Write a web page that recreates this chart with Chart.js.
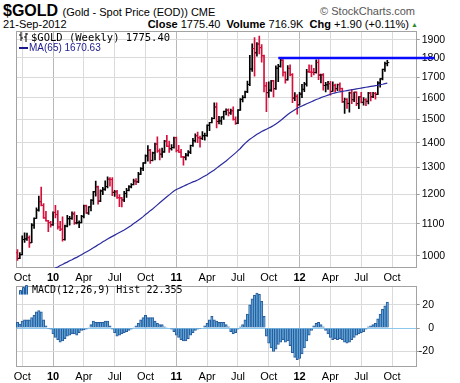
<!DOCTYPE html>
<html><head><meta charset="utf-8">
<script src="https://cdn.jsdelivr.net/npm/chart.js@4"></script>
<style>
body{margin:0;width:460px;height:383px;background:#fff;position:relative;overflow:hidden;font-family:"Liberation Sans",Arial,sans-serif;color:#000}
.t{position:absolute;white-space:nowrap;line-height:1}
canvas{position:absolute;left:0}
</style></head><body>
<div class="t" style="left:3px;top:3px;font-size:16px;font-weight:bold">$GOLD <span style="font-weight:normal;font-size:11px">(Gold - Spot Price (EOD)) CME</span></div>
<div class="t" style="right:45px;top:6px;font-size:11px;color:#555">© StockCharts.com</div>
<div class="t" style="left:3px;top:19px;font-size:11px">21-Sep-2012</div>
<div class="t" style="right:51px;top:19px;font-size:11px"><b>Close</b> 1775.40 &nbsp;<b>Volume</b> 716.9K &nbsp;<b>Chg</b> +1.90 (+0.11%)</div>
<div class="t" style="left:411px;top:21px;font-size:7px;color:#2f8a2f">▲</div>
<canvas id="c1" width="460" height="283" style="top:0"></canvas>
<canvas id="c2" width="460" height="103" style="top:280px"></canvas>
<svg style="position:absolute;left:19px;top:32px" width="11" height="10"><path d="M2 0V9M0 3H2M2 6H4M7 1V10M5 5H7M7 2H9" stroke="#000" fill="none"/></svg>
<div class="t" style="left:31px;top:32px;font-size:10.5px;font-family:'DejaVu Sans Mono',monospace">$GOLD (Weekly) 1775.40</div>
<div style="position:absolute;left:19px;top:47px;width:9px;height:2px;background:#1a1a8c"></div>
<div class="t" style="left:29px;top:43px;font-size:10px;color:#1a1a8c">MA(65) 1670.63</div>
<svg style="position:absolute;left:19px;top:285px" width="12" height="10"><path d="M0.5 9.5V5.5H2.5V9.5M3.5 9.5V2.5H5.5V9.5M6.5 9.5V0.5H8.5V9.5" stroke="#2a5c9c" fill="#5aa8dc"/></svg>
<div class="t" style="left:32px;top:285px;font-size:10px;font-family:'DejaVu Sans Mono',monospace">MACD(12,26,9) Hist 22.355</div>
<script>
// ---- data (weekly, index 0 = 25-Sep-2009 ... 156 = 21-Sep-2012) ----
const opens=[1010,993,1004,1050,1052,1056,1040,1096,1118,1146,
1175,1162,1120,1110,1104,1097,1138,1131,1090,1083,
1050,1093,1117,1118,1133,1103,1104,1104,1125,1161,
1136,1157,1180,1210,1228,1177,1213,1219,1229,1256,
1255,1208,1210,1189,1188,1181,1204,1215,1228,1236,
1249,1246,1275,1296,1318,1346,1369,1328,1358,1394,
1366,1353,1362,1406,1385,1375,1380,1421,1368,1361,
1342,1341,1349,1361,1388,1408,1429,1420,1418,1429,
1430,1474,1486,1504,1556,1491,1493,1511,1536,1542,
1529,1539,1500,1483,1542,1592,1601,1628,1664,1742,
1851,1828,1876,1856,1812,1657,1624,1636,1682,1643,
1746,1756,1788,1725,1687,1745,1713,1598,1606,1566,
1617,1640,1666,1728,1726,1725,1724,1776,1711,1712,
1659,1662,1668,1630,1659,1643,1663,1644,1580,1592,
1573,1623,1590,1626,1572,1604,1578,1591,1583,1622,
1604,1620,1616,1671,1692,1740,1770];
const highs=[1019,1010,1062,1071,1070,1062,1101,1120,1154,1195,
1227,1168,1142,1112,1108,1140,1162,1144,1108,1123,
1096,1128,1125,1140,1140,1128,1110,1128,1163,1163,
1158,1182,1212,1249,1231,1217,1226,1250,1265,1262,
1262,1215,1215,1200,1190,1212,1222,1232,1240,1256,
1258,1282,1300,1320,1350,1388,1372,1361,1398,1424,
1375,1378,1410,1431,1406,1392,1423,1423,1389,1372,
1344,1356,1367,1390,1418,1437,1445,1427,1447,1440,
1476,1487,1508,1576,1575,1514,1512,1537,1548,1548,
1547,1557,1512,1544,1595,1610,1632,1681,1814,1877,
1912,1884,1921,1873,1815,1675,1677,1685,1684,1759,
1766,1803,1792,1727,1760,1764,1718,1624,1615,1625,
1665,1675,1740,1764,1763,1745,1790,1792,1716,1718,
1675,1680,1680,1677,1666,1666,1672,1646,1598,1596,
1627,1640,1627,1628,1605,1625,1600,1596,1626,1625,
1626,1626,1678,1693,1742,1778,1788];
const lows=[987,992,1003,1041,1047,1026,1040,1085,1118,1142,
1160,1118,1109,1075,1089,1095,1120,1083,1078,1045,
1048,1090,1096,1115,1098,1100,1088,1103,1120,1135,
1131,1143,1165,1194,1166,1175,1200,1215,1224,1230,
1196,1193,1186,1158,1157,1175,1190,1213,1224,1235,
1236,1243,1273,1288,1316,1325,1316,1326,1330,1360,
1330,1340,1360,1383,1360,1369,1377,1362,1360,1340,
1309,1330,1345,1355,1384,1402,1400,1381,1412,1410,
1426,1451,1484,1503,1462,1480,1478,1500,1520,1515,
1522,1496,1478,1481,1540,1580,1599,1624,1658,1730,
1705,1809,1822,1778,1627,1535,1601,1630,1604,1640,
1678,1752,1705,1670,1685,1707,1576,1586,1523,1565,
1600,1629,1656,1725,1703,1712,1720,1688,1672,1636,
1627,1640,1612,1630,1627,1633,1633,1577,1527,1550,
1533,1572,1581,1562,1548,1575,1565,1562,1570,1585,
1600,1593,1614,1650,1687,1730,1758];
const closes=[993,1004,1050,1052,1056,1040,1096,1118,1146,1175,
1162,1120,1110,1104,1097,1138,1131,1090,1083,1050,
1093,1117,1118,1133,1103,1104,1104,1125,1161,1136,
1157,1180,1210,1228,1177,1213,1219,1229,1256,1255,
1208,1210,1189,1188,1181,1204,1215,1228,1236,1249,
1246,1275,1296,1318,1346,1369,1328,1358,1394,1366,
1353,1362,1406,1385,1375,1380,1421,1368,1361,1342,
1341,1349,1361,1388,1408,1429,1420,1418,1429,1430,
1474,1486,1504,1556,1491,1493,1511,1536,1542,1529,
1539,1500,1483,1542,1592,1601,1628,1664,1742,1851,
1828,1876,1856,1812,1657,1624,1636,1682,1643,1746,
1756,1788,1725,1687,1745,1713,1598,1606,1566,1617,
1640,1666,1728,1726,1725,1724,1776,1711,1712,1659,
1662,1668,1630,1659,1643,1663,1644,1580,1592,1573,
1623,1590,1626,1572,1604,1578,1591,1583,1622,1604,
1620,1616,1671,1692,1740,1770,1775.4];
const ma65=[909,913,916,920,923,927,930,934,937,941,
944,948,951,955,958,961,965,968,972,975,
979,982,986,989,993,996,1000,1004,1008,1012,
1016,1020,1025,1029,1034,1038,1043,1047,1052,1056,
1060,1064,1068,1072,1076,1080,1085,1090,1095,1101,
1106,1112,1118,1124,1131,1137,1144,1150,1157,1164,
1171,1178,1185,1192,1199,1206,1213,1218,1222,1226,
1230,1234,1238,1242,1246,1249,1253,1258,1263,1268,
1273,1279,1285,1291,1298,1305,1312,1319,1326,1334,
1342,1350,1358,1367,1376,1387,1397,1406,1414,1421,
1428,1435,1441,1447,1452,1457,1462,1467,1473,1480,
1487,1495,1504,1513,1522,1530,1537,1544,1550,1556,
1561,1566,1571,1576,1581,1586,1591,1595,1600,1604,
1608,1612,1616,1620,1623,1626,1628,1630,1632,1634,
1636,1638,1640,1642,1644,1646,1648,1650,1652,1654,
1656,1658,1660,1663,1665,1668,1670.63];
const macdHist=[5,3.5,6,7,7,7,9,11,14,15,
14,7,2,-0.5,-1,-5,-8,-10,-12,-11,
-9,-7,-6,-5,-5,-6,-4,-2,-1.5,-1,
0.5,3,6,5,5,5,5,6,6,2,
-1,-4,-7,-6,-5,-4,-3,-2,-1,0.5,
2,4,7,9,11,9,9,9,6,4,
3,3,1,0.5,0,-1,-3,-6,-8,-10,
-11,-11,-9,-6,-4,-2,-1,-0.5,0,2,
4,7,10,7,6,5,5,5,3,1,
-3,-5,-4,-1,1,3,7,12,20,25,
28,30,29,23,10,-7,-13,-17,-20,-18,
-14,-12,-10,-12,-11,-15,-21,-25,-27,-26,
-22,-17,-11,-6,-2,2,4,5,3,1,
-2,-5,-8,-10,-9,-10,-9,-10,-12,
-13,-12,-10,-8,-6,-5,-4,-3,-1,1,
2,3,4,8,12,16,19,22.355];
const resistanceLevel=1800, resistanceFrom=110, resistanceTo=176;
const tickPos=[2,15,28,41,54,67,80,93,106,119,132,145,158];
const tickText=['Oct','10','Apr','Jul','Oct','11','Apr','Jul','Oct','12','Apr','Jul','Oct'];
const priceTicks=[1000,1100,1200,1300,1400,1500,1600,1700,1800,1900];
const macdTicks=[-20,0,20];

// ---- rendering ----
const X_MIN=-0.63, X_MAX=168.4;
const FONT="'Liberation Sans', Arial, sans-serif";
const isYear=c=>c&&c.index!==undefined&&/^\d+$/.test(tickText[c.index]||'');
const barColor=closes.map((c,i)=>(i===0?c<opens[i]:c<closes[i-1])?'#d4103c':'#000000');
const frame={id:'frame',beforeDatasetsDraw(ch){const a=ch.chartArea,c=ch.ctx;c.save();c.strokeStyle='#a3a3a3';c.lineWidth=1;
 c.strokeRect(Math.round(a.left)+0.5,Math.round(a.top)+0.5,Math.round(a.right)-Math.round(a.left)-1,Math.round(a.bottom)-Math.round(a.top)-1);c.restore();}};
function xAxis(h){return {type:'linear',min:X_MIN,max:X_MAX,offset:false,
 afterFit:s=>{s.height=h;},
 afterBuildTicks:s=>{s.ticks=tickPos.map(v=>({value:v}));},
 border:{display:false},
 grid:{offset:false,color:c=>isYear(c)?'#b8b8b8':'#dadada',lineWidth:1,drawTicks:false},
 ticks:{autoSkip:false,maxRotation:0,padding:3,color:'#000',
  font:c=>({family:FONT,size:11,weight:isYear(c)?'bold':'normal'}),
  callback:(v,i)=>tickText[i]}};}
Chart.defaults.animation=false;
new Chart(document.getElementById('c1'),{
 type:'bar',
 data:{datasets:[
  {type:'line',data:[{x:resistanceFrom,y:resistanceLevel},{x:resistanceTo,y:resistanceLevel}],borderColor:'#0a0aff',borderWidth:2.5,pointRadius:0,clip:false,order:0},
  {type:'line',data:ma65.map((v,i)=>({x:i,y:v})),borderColor:'#2a2aa0',borderWidth:1.2,pointRadius:0,order:1},
  {type:'line',data:opens.map((v,i)=>({x:i-0.42,y:v})),showLine:false,pointStyle:'line',pointRadius:1,pointBorderWidth:1,pointBorderColor:barColor,order:2},
  {type:'line',data:closes.map((v,i)=>({x:i+0.42,y:v})),showLine:false,pointStyle:'line',pointRadius:1,pointBorderWidth:1,pointBorderColor:barColor,order:2},
  {type:'bar',data:highs.map((h,i)=>({x:i,y:[lows[i],h]})),backgroundColor:barColor,barThickness:1,grouped:false,order:3}
 ]},
 options:{responsive:false,devicePixelRatio:1,animation:false,
  layout:{padding:{left:16,top:31,right:0,bottom:0}},
  plugins:{legend:{display:false},tooltip:{enabled:false}},
  scales:{x:xAxis(15),
   y:{type:'logarithmic',position:'right',min:965,max:1950,
    afterFit:s=>{s.width=43.3;},
    afterBuildTicks:s=>{s.ticks=priceTicks.map(v=>({value:v}));},
    border:{display:false},
    grid:{color:'#dadada',tickColor:'#999',tickLength:3},
    ticks:{padding:2,color:'#000',font:{family:FONT,size:10.5},callback:v=>String(v)}}}},
 plugins:[frame]});
new Chart(document.getElementById('c2'),{
 type:'bar',
 data:{datasets:[{data:macdHist.map((v,i)=>({x:i,y:v})),backgroundColor:'#5aa8dc',borderColor:'#2a5c9c',borderWidth:1,barPercentage:1,categoryPercentage:1,grouped:false}]},
 options:{responsive:false,devicePixelRatio:1,animation:false,
  layout:{padding:{left:16,top:4,right:26,bottom:0}},
  plugins:{legend:{display:false},tooltip:{enabled:false}},
  scales:{x:xAxis(16),
   y:{type:'linear',position:'right',min:-33.3,max:35.8,
    afterFit:s=>{s.width=17.3;},
    afterBuildTicks:s=>{s.ticks=macdTicks.map(v=>({value:v}));},
    border:{display:false},
    grid:{color:c=>(c.tick&&c.tick.value===0)?'#8cc8ee':'#dadada',tickColor:'#999',tickLength:3},
    ticks:{padding:0,crossAlign:'far',color:'#000',font:{family:FONT,size:10.5},callback:v=>String(v)}}}},
 plugins:[frame]});
</script>
</body></html>
